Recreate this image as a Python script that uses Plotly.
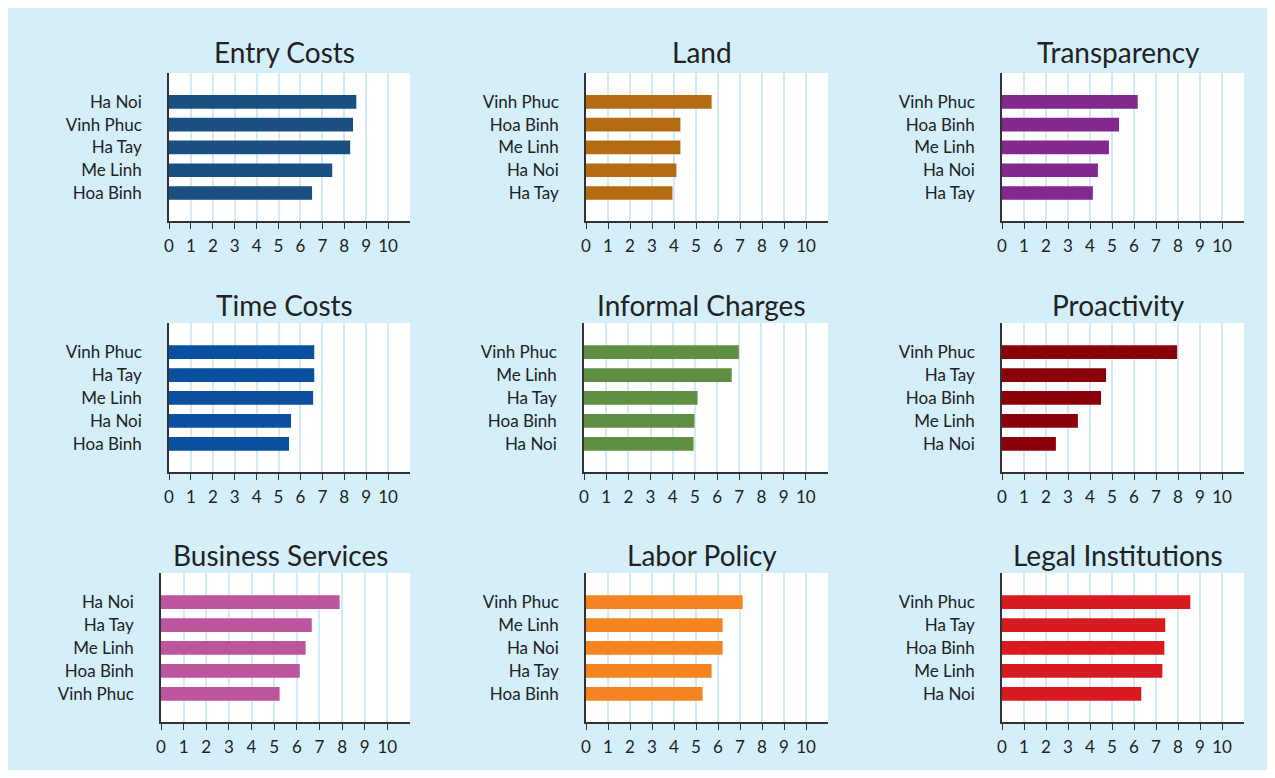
import plotly.graph_objects as go

# The page body has an 8px default margin; lay the figure out in page
# pixels and shift by that offset so everything lands where it should.
OFF = 8
W, H = 1275 - 2 * OFF, 778 - 2 * OFF

titles = ["Entry Costs", "Land", "Transparency",
          "Time Costs", "Informal Charges", "Proactivity",
          "Business Services", "Labor Policy", "Legal Institutions"]

entry_labels = ["Ha Noi", "Vinh Phuc", "Ha Tay", "Me Linh", "Hoa Binh"]
entry_values = [8.55, 8.40, 8.27, 7.45, 6.53]

land_labels = ["Vinh Phuc", "Hoa Binh", "Me Linh", "Ha Noi", "Ha Tay"]
land_values = [5.71, 4.29, 4.29, 4.11, 3.93]

transp_labels = ["Vinh Phuc", "Hoa Binh", "Me Linh", "Ha Noi", "Ha Tay"]
transp_values = [6.17, 5.32, 4.86, 4.36, 4.13]

time_labels = ["Vinh Phuc", "Ha Tay", "Me Linh", "Ha Noi", "Hoa Binh"]
time_values = [6.63, 6.63, 6.58, 5.57, 5.48]

informal_labels = ["Vinh Phuc", "Me Linh", "Ha Tay", "Hoa Binh", "Ha Noi"]
informal_values = [6.98, 6.66, 5.12, 4.98, 4.94]

proact_labels = ["Vinh Phuc", "Ha Tay", "Hoa Binh", "Me Linh", "Ha Noi"]
proact_values = [7.96, 4.73, 4.50, 3.45, 2.45]

business_labels = ["Ha Noi", "Ha Tay", "Me Linh", "Hoa Binh", "Vinh Phuc"]
business_values = [7.89, 6.66, 6.39, 6.13, 5.24]

labor_labels = ["Vinh Phuc", "Me Linh", "Ha Noi", "Ha Tay", "Hoa Binh"]
labor_values = [7.12, 6.21, 6.21, 5.71, 5.30]

legal_labels = ["Vinh Phuc", "Ha Tay", "Hoa Binh", "Me Linh", "Ha Noi"]
legal_values = [8.56, 7.42, 7.38, 7.29, 6.33]

x_tickvals = [0, 1, 2, 3, 4, 5, 6, 7, 8, 9, 10]
x_ticktext = ["0", "1", "2", "3", "4", "5", "6", "7", "8", "9", "10"]

colors = ["#1a4f82", "#b56b12", "#82288f",
          "#0a4fa0", "#5f8f42", "#8a0008",
          "#bd559e", "#f38421", "#d91a21"]

panels = [
    (entry_labels, entry_values), (land_labels, land_values), (transp_labels, transp_values),
    (time_labels, time_values), (informal_labels, informal_values), (proact_labels, proact_values),
    (business_labels, business_values), (labor_labels, labor_values), (legal_labels, legal_values),
]

# plot-area boxes in page pixels (left, right, top, bottom)
boxes = [
    (169, 410, 73, 221), (586, 828, 73, 221), (1002, 1244, 73, 221),
    (169, 410, 323, 472), (584, 828, 323, 472), (1002, 1244, 323, 472),
    (161, 410, 573, 722), (586, 828, 573, 722), (1002, 1244, 573, 722),
]
title_y = [52, 52, 52, 305, 305, 305, 555, 555, 555]

BG = "#d4eefa"
GRID = "#cfeaf8"
INK = "#222222"
FONT = "Lato"


def px(x):
    return (x - OFF) / W


def py(y):
    return 1 - (y - OFF) / H


fig = go.Figure()
layout = dict(
    width=W, height=H,
    margin=dict(l=0, r=0, t=0, b=0),
    paper_bgcolor=BG,
    plot_bgcolor="white",
    showlegend=False,
    font=dict(family=FONT, color=INK, size=17),
    template="none",
    annotations=[],
)

for i, ((labels, values), color, (l, r, t, b)) in enumerate(zip(panels, colors, boxes)):
    n = "" if i == 0 else str(i + 1)
    fig.add_trace(go.Bar(
        x=values, y=labels, orientation="h",
        marker=dict(color=color, line=dict(width=0)),
        width=0.6, xaxis="x" + n, yaxis="y" + n,
        hoverinfo="x+y",
    ))
    layout["xaxis" + n] = dict(
        domain=[px(l), px(r)], anchor="y" + n,
        range=[0, 11], tickvals=x_tickvals, ticktext=x_ticktext,
        showgrid=True, gridcolor=GRID, gridwidth=2,
        showline=True, linecolor="#333333", linewidth=1.5,
        ticks="outside", ticklen=6, tickwidth=1.2, tickcolor="#333333",
        ticklabelstandoff=3,
        tickfont=dict(family=FONT, size=17, color=INK),
        zeroline=False, automargin=False, fixedrange=True,
    )
    layout["yaxis" + n] = dict(
        domain=[py(b), py(t)], anchor="x" + n,
        type="category", categoryorder="array", categoryarray=labels,
        range=[4 + 1.23, -1.27],
        showgrid=False, showline=True, linecolor="#333333", linewidth=1.5,
        ticks="", ticklabelstandoff=22,
        tickfont=dict(family=FONT, size=17, color=INK),
        zeroline=False, automargin=False, fixedrange=True,
    )
    layout["annotations"].append(dict(
        text=titles[i], xref="paper", yref="paper",
        x=px((l + r) / 2 - 5), y=py(title_y[i]),
        xanchor="center", yanchor="middle", showarrow=False,
        font=dict(family=FONT, size=28, color=INK),
    ))

fig.update_layout(**layout)
fig.write_html("out.html")
